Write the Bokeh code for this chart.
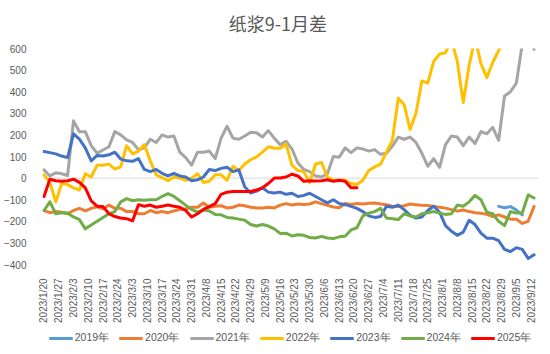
import math
from bokeh.plotting import figure
from bokeh.layouts import column
from bokeh.models import Range1d, FixedTicker, Span, Legend, LegendItem, Label
from bokeh.embed import file_html
from bokeh.resources import INLINE

chart_title = "纸浆9-1月差"

# x-axis: trading-day index; a label every 5th day
tick_labels = ["2023/1/20", "2023/1/27", "2023/2/3", "2023/2/10", "2023/2/17", "2023/2/24",
               "2023/3/3", "2023/3/10", "2023/3/17", "2023/3/24", "2023/3/31", "2023/4/8",
               "2023/4/15", "2023/4/22", "2023/4/29", "2023/5/9", "2023/5/16", "2023/5/23",
               "2023/5/30", "2023/6/6", "2023/6/13", "2023/6/20", "2023/6/27", "2023/7/4",
               "2023/7/11", "2023/7/18", "2023/7/25", "2023/8/1", "2023/8/8", "2023/8/15",
               "2023/8/22", "2023/8/29", "2023/9/5", "2023/9/12"]
n_days = 168
day_index = list(range(0, 167, 2))   # sampled day positions (84)

s2019 = [None] * 77 + [-131, -137, -132, -148, -170] + [None] * 2

s2020 = [-150, -160, -155, -158, -165, -150, -140, -152, -140, -133,
         -142, -125, -140, -140, -155, -155, -165, -165, -150, -160,
         -155, -160, -152, -145, -142, -135, -135, -115, -135, -130,
         -128, -138, -135, -125, -128, -135, -138, -138, -135, -138,
         -125, -118, -125, -120, -122, -120, -110, -118, -126, -134,
         -137, -118, -122, -118, -120, -116, -115, -120, -123, -130,
         -131, -128, -120, -123, -126, -127, -131, -135, -139, -146,
         -153, -148, -155, -160, -163, -168, -178, -170, -180, -190,
         -190, -210, -200, -131]

s2021 = [38, 10, 25, 20, 12, 265, 215, 215, 150, 115,
         130, 145, 215, 200, 177, 165, 132, 140, 180, 165,
         200, 190, 195, 120, 95, 60, 120, 120, 125, 90,
         185, 240, 185, 180, 195, 212, 210, 190, 220, 185,
         155, 170, 135, 70, 40, 30, 10, 5, 20, 100,
         97, 140, 118, 140, 135, 125, 132, 110, 115, 148,
         190, 180, 190, 165, 115, 55, 90, 50, 155, 195,
         190, 150, 190, 160, 215, 205, 235, 175, 380, 400,
         440, 620, 680, 596]

s2022 = [15, -20, -110, -25, -30, -45, -55, 20, 5, 60,
         60, 65, 42, 52, 150, 112, 125, 155, 80, 15,
         2, -12, 5, 0, -10, 0, 20, -20, -15, 15,
         15, -10, 55, 35, 65, 85, 98, 120, 145, 138,
         138, 158, 60, 35, 30, -20, 65, 72, 5, -10,
         -10, -10, -25, -30, -10, 35, 52, 65, 120, 175,
         370, 340, 225, 300, 450, 440, 540, 575, 580, 640,
         540, 350, 520, 650, 530, 465, 535, 590, 660, 680,
         690, 700, 700, 700]

s2023 = [123, 118, 112, 102, 95, 205, 180, 140, 80, 105,
         102, 108, 120, 88, 80, 78, 90, 40, 30, 40,
         22, 10, 22, 10, 5, -12, -8, 5, 40, 35,
         45, 50, 30, 38, -40, -69, -60, -45, -65, -69,
         -65, -75, -70, -85, -80, -70, -85, -100, -115, -100,
         -118, -123, -131, -140, -155, -175, -182, -178, -130, -135,
         -125, -146, -172, -185, -180, -150, -130, -158, -220, -246,
         -265, -250, -195, -215, -255, -278, -278, -290, -330, -340,
         -322, -330, -372, -355]

s2024 = [-150, -110, -165, -160, -162, -180, -192, -235, None, None,
         None, -165, -155, -110, -95, -105, -100, -102, -100, -100,
         -85, -72, -85, -105, -125, -145, -158, -148, -152, -168,
         -170, -182, -185, -190, -195, -215, -222, -215, -222, -235,
         -256, -255, -268, -262, -265, -275, -277, -270, -277, -280,
         -272, -269, -240, -230, -175, -162, -155, -140, -185, -188,
         -192, -165, -175, -180, -165, -160, -155, -162, -168, -165,
         -125, -130, -110, -80, -100, -158, -165, -200, -220, -155,
         -162, -160, -78, -92]

s2025 = [-85, -5, -12, -15, -12, -5, -20, -45, -105, -130,
         -132, -165, -178, -185, -188, -198, -123, -130, -125, -135,
         -130, -125, -130, -135, -150, -180, -165, -145, -132, -118,
         -75, -65, -62, -62, -62, -62, -55, -45, -25, 0,
         0, 5, 18, 10, -15, -12, -13, -12, -8, -15,
         -10, -15, -45, -45] + [None] * 30

series_names = ["2019年", "2020年", "2021年", "2022年", "2023年", "2024年", "2025年"]
series_values = [s2019, s2020, s2021, s2022, s2023, s2024, s2025]
series_colors = ["#5B9BD5", "#ED7D31", "#A5A5A5", "#FFC000", "#4472C4", "#70AD47", "#FF0000"]

y_ticks = list(range(-400, 601, 100))

axis_font = "Liberation Sans"
label_color = "#595959"


def strip(height):
    f = figure(width=550, height=height, output_backend="svg", toolbar_location=None,
               x_range=Range1d(0, 550), y_range=Range1d(0, height),
               x_axis_location=None, y_axis_location=None,
               min_border_left=0, min_border_right=0, min_border_top=0, min_border_bottom=0)
    f.outline_line_color = None
    f.grid.visible = False
    f.background_fill_color = "white"
    f.border_fill_color = "white"
    return f


# ---------- title strip ----------
tf = strip(40)
tf.add_layout(Label(x=261, y=18, text=chart_title, text_align="center", text_baseline="middle",
                    text_font="Noto Sans CJK SC", text_font_size="18px",
                    text_color="#595959"))

# ---------- main chart ----------
p = figure(width=550, height=285, output_backend="svg", toolbar_location=None,
           x_range=Range1d(-0.5, n_days - 0.5), y_range=Range1d(-400, 600),
           min_border_left=38, min_border_right=12, min_border_top=8, min_border_bottom=60)
p.background_fill_color = "white"
p.border_fill_color = "white"
p.outline_line_color = None
p.grid.visible = False

p.yaxis.ticker = FixedTicker(ticks=y_ticks)
p.yaxis.axis_line_color = None
p.yaxis.major_tick_line_color = None
p.yaxis.minor_tick_line_color = None
p.yaxis.major_label_standoff = 10
p.yaxis.major_label_text_font = axis_font
p.yaxis.major_label_text_font_size = "10px"
p.yaxis.major_label_text_color = label_color

x_ticks = list(range(0, 5 * len(tick_labels), 5))
p.xaxis.ticker = FixedTicker(ticks=x_ticks)
p.xaxis.major_label_overrides = {t: lbl for t, lbl in zip(x_ticks, tick_labels)}
p.xaxis.major_label_orientation = math.pi / 2
p.xaxis.axis_line_color = None
p.xaxis.major_tick_line_color = None
p.xaxis.minor_tick_line_color = None
p.xaxis.major_label_standoff = 8
p.xaxis.major_label_text_font = axis_font
p.xaxis.major_label_text_font_size = "10px"
p.xaxis.major_label_text_color = label_color

zero_line = Span(location=0, dimension="width", line_color="#D9D9D9", line_width=1, level="underlay")
p.add_layout(zero_line)

for name, vals, col in zip(series_names, series_values, series_colors):
    xs = [x for x, v in zip(day_index, vals) if v is not None]
    ys = [v for v in vals if v is not None]
    p.line(xs, ys, line_width=3, line_color=col, line_join="round", line_cap="round")

# ---------- legend strip ----------
lg = strip(25)
items = []
for name, col in zip(series_names, series_colors):
    # legend-only renderer: its points lie outside the strip's visible range
    r = lg.line(x=[-100, -90], y=[-100, -100], line_width=3, line_color=col)
    items.append(LegendItem(label=name, renderers=[r]))

legend = Legend(items=items, orientation="horizontal", location="center",
                glyph_width=24, glyph_height=12, label_height=12, label_standoff=2,
                spacing=10, padding=0, margin=0,
                border_line_color=None, background_fill_alpha=0,
                label_text_font=axis_font, label_text_font_size="10.5px",
                label_text_color=label_color)
lg.add_layout(legend)

layout = column(tf, p, lg, spacing=0)
open("out.html", "w").write(file_html(layout, INLINE))
